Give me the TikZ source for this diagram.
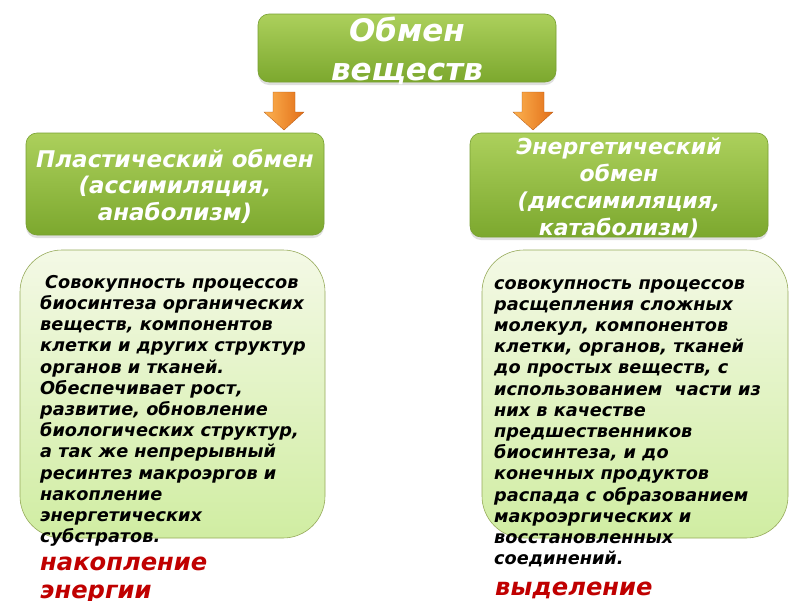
\documentclass[tikz,border=0pt]{standalone}
\usepackage{fontspec}
\setmainfont{DejaVu Sans}
\usetikzlibrary{shadows}
\definecolor{gtop}{RGB}{172,208,92}
\definecolor{gbot}{RGB}{124,168,46}
\definecolor{gedge}{RGB}{120,160,50}
\definecolor{ltop}{RGB}{244,249,230}
\definecolor{lbot}{RGB}{208,237,162}
\definecolor{ledge}{RGB}{150,170,90}
\definecolor{oleft}{RGB}{252,178,80}
\definecolor{oright}{RGB}{226,110,24}
\definecolor{redtxt}{RGB}{192,0,0}
\tikzset{
  greenbox/.style={draw=gedge, line width=0.6pt, rounded corners=11pt, top color=gtop, bottom color=gbot,
    drop shadow={shadow xshift=0pt, shadow yshift=-3pt, opacity=0.25, fill=gray},
    inner sep=0pt},
  boxtext/.style={text=white, align=center, inner sep=0pt},
  lightbox/.style={draw=ledge, line width=0.6pt, rounded corners=42pt, top color=ltop, bottom color=lbot},
  bodytext/.style={anchor=north west, inner sep=0pt, align=left, text=black,
    font=\fontsize{17.7}{21.2}\selectfont\bfseries\itshape},
  redlabel/.style={anchor=north west, inner sep=0pt, align=left, text=redtxt,
    font=\fontsize{24.2}{28}\selectfont\bfseries\itshape},
  orangearrow/.style={left color=oleft, right color=oright, draw=oright!80!black, line width=0.3pt}
}
\begin{document}
\begin{tikzpicture}[x=1pt,y=-1pt]
\useasboundingbox (0,0) rectangle (800,600);
\clip (0,0) rectangle (800,600);
\fill[white] (0,0) rectangle (800,600);

% header
\node[greenbox, minimum width=298pt, minimum height=68pt] (top) at (407,48) {};
\node[boxtext, font=\fontsize{31}{38.5}\selectfont\bfseries\itshape] (toptxt) at ([yshift=-3pt]top.center) {Обмен\\веществ};

% sub boxes
\node[greenbox, minimum width=298pt, minimum height=102pt] (plast) at (175,184) {};
\node[boxtext, font=\fontsize{23}{26.5}\selectfont\bfseries\itshape] (plasttxt) at ([yshift=-2pt]plast.center) {Пластический обмен\\(ассимиляция,\\анаболизм)};
\node[greenbox, minimum width=298pt, minimum height=104pt] (energ) at (619,185) {};
\node[boxtext, font=\fontsize{22}{27.3}\selectfont\bfseries\itshape] (energtxt) at ([yshift=-3pt]energ.center) {Энергетический\\обмен\\(диссимиляция,\\катаболизм)};

% arrows
\path[orangearrow] (273,92) -- (295,92) -- (295,112) -- (304,112) -- (284,130) -- (264,112) -- (273,112) -- cycle;
\path[orangearrow] (522,92) -- (544,92) -- (544,112) -- (553,112) -- (533,130) -- (513,112) -- (522,112) -- cycle;

% light boxes
\path[lightbox] (20,250) rectangle (325,538);
\path[lightbox] (482,250) rectangle (788,538);

% body texts
\node[bodytext] (ltext) at (40,275) {\hspace{5pt}Совокупность процессов\\
биосинтеза органических\\
веществ, компонентов\\
клетки и других структур\\
органов и тканей.\\
Обеспечивает рост,\\
развитие, обновление\\
биологических структур,\\
а так же непрерывный\\
ресинтез макроэргов и\\
накопление\\
энергетических\\
субстратов.};

\node[bodytext] (rtext) at (494,279) {совокупность процессов\\
расщепления сложных\\
молекул, компонентов\\
клетки, органов, тканей\\
до простых веществ, с\\
использованием\ \ части из\\
них в качестве\\
предшественников\\
биосинтеза, и до\\
конечных продуктов\\
распада с образованием\\
макроэргических и\\
восстановленных\\
соединений.};

\node[redlabel] (lred) at (40,557) {накопление\\энергии};
\node[redlabel] (rred) at (495,582) {выделение};
\end{tikzpicture}
\end{document}
